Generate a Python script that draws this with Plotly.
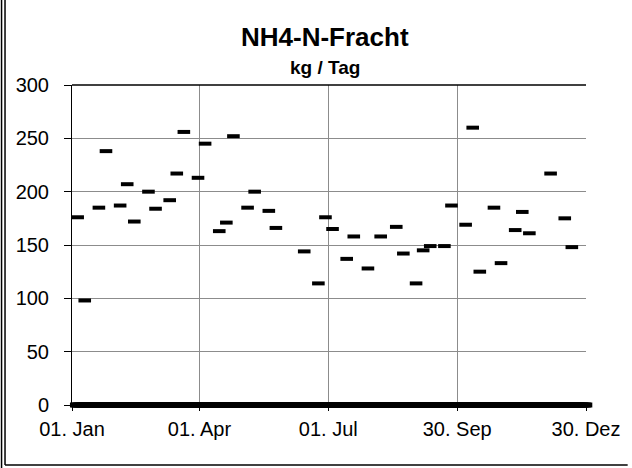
import pandas as pd
import plotly.graph_objects as go

# Measured NH4-N load (kg / Tag)
dates = ["2001-01-05", "2001-01-10", "2001-01-20", "2001-01-25", "2001-02-04", "2001-02-09",
         "2001-02-14", "2001-02-24", "2001-03-01", "2001-03-11", "2001-03-16", "2001-03-21",
         "2001-03-31", "2001-04-05", "2001-04-15", "2001-04-20", "2001-04-25", "2001-05-05",
         "2001-05-10", "2001-05-20", "2001-05-25", "2001-06-14", "2001-06-24", "2001-06-29",
         "2001-07-04", "2001-07-14", "2001-07-19", "2001-07-29", "2001-08-07", "2001-08-18",
         "2001-08-23", "2001-09-01", "2001-09-06", "2001-09-11", "2001-09-21", "2001-09-26",
         "2001-10-06", "2001-10-11", "2001-10-16", "2001-10-26", "2001-10-31", "2001-11-10",
         "2001-11-15", "2001-11-20", "2001-12-05", "2001-12-15", "2001-12-20"]
values = [176, 98, 185, 238, 187, 207,
          172, 200, 184, 192, 217, 256,
          213, 245, 163, 171, 252, 185,
          200, 182, 166, 144, 114, 176,
          165, 137, 158, 128, 158, 167,
          142, 114, 145, 149, 149, 187,
          169, 260, 125, 185, 133, 164,
          181, 161, 217, 175, 148]

# Zero-valued daily series (drawn as the thick baseline)
zero_start, zero_end = "2001-01-04", "2001-12-31"
zero_dates = pd.date_range(zero_start, zero_end, freq="D")
zero_values = [0] * len(zero_dates)

tick_dates = ["2001-01-01", "2001-04-01", "2001-07-01", "2001-09-30", "2001-12-30"]
tick_labels = ["01. Jan", "01. Apr", "01. Jul", "30. Sep", "30. Dez"]
y_ticks = [0, 50, 100, 150, 200, 250, 300]

FONT = "Liberation Sans, Arial, sans-serif"

fig = go.Figure()
fig.add_trace(go.Scatter(
    x=zero_dates, y=zero_values, mode="markers",
    marker=dict(symbol="line-ew", size=9, color="black", line=dict(color="black", width=5)),
    cliponaxis=False, showlegend=False, hoverinfo="skip"))
fig.add_trace(go.Scatter(
    x=dates, y=values, mode="markers",
    marker=dict(symbol="line-ew", size=9, color="black", line=dict(color="black", width=4)),
    cliponaxis=False, showlegend=False))

L, R, T, B = 72, 42, 85, 63
W, H = 632, 468
pw, ph = W - L - R, H - T - B

def px(x):
    return (x - L) / pw

def py(y):
    return (H - B - y) / ph

fig.update_layout(
    width=W, height=H,
    margin=dict(l=L, r=R, t=T, b=B),
    paper_bgcolor="white", plot_bgcolor="white",
    font=dict(family=FONT, size=20, color="black"),
    xaxis=dict(
        type="date", range=["2001-01-01", "2001-12-30"],
        tickvals=tick_dates, ticktext=tick_labels,
        showgrid=True, gridcolor="#8c8c8c", gridwidth=1,
        ticks="outside", ticklen=5, tickcolor="black",
        showline=False, zeroline=False, ticklabelstandoff=1,
        tickfont=dict(family=FONT, size=20),
    ),
    yaxis=dict(
        range=[0, 300], tickvals=y_ticks,
        showgrid=True, gridcolor="#8c8c8c", gridwidth=1,
        ticks="outside", ticklen=7, tickcolor="black",
        showline=True, linecolor="black", linewidth=1,
        zeroline=False, ticklabelstandoff=11,
        tickfont=dict(family=FONT, size=20),
    ),
    annotations=[
        dict(text="<b>NH4-N-Fracht</b>", x=px(327), y=py(54), xref="paper", yref="paper",
             xanchor="center", yanchor="bottom", showarrow=False,
             font=dict(family=FONT, size=26, color="black")),
        dict(text="<b>kg / Tag</b>", x=px(327), y=py(80), xref="paper", yref="paper",
             xanchor="center", yanchor="bottom", showarrow=False,
             font=dict(family=FONT, size=19, color="black")),
    ],
    shapes=[
        # top plot border
        dict(type="line", xref="paper", yref="paper", x0=0, x1=1, y0=1, y1=1,
             line=dict(color="black", width=1.5)),
        # outer frame: left double line and bottom line
        dict(type="line", xref="paper", yref="paper", x0=px(1), x1=px(1), y0=py(0), y1=py(468),
             line=dict(color="black", width=1.5)),
        dict(type="line", xref="paper", yref="paper", x0=px(4.5), x1=px(4.5), y0=py(0), y1=py(465),
             line=dict(color="black", width=1.5)),
        dict(type="line", xref="paper", yref="paper", x0=px(4.5), x1=px(632), y0=py(465), y1=py(465),
             line=dict(color="black", width=1.5)),
    ],
)

fig.write_html("out.html", config={"displayModeBar": False},
               post_script="document.body.style.margin='0';document.body.style.padding='0';")
